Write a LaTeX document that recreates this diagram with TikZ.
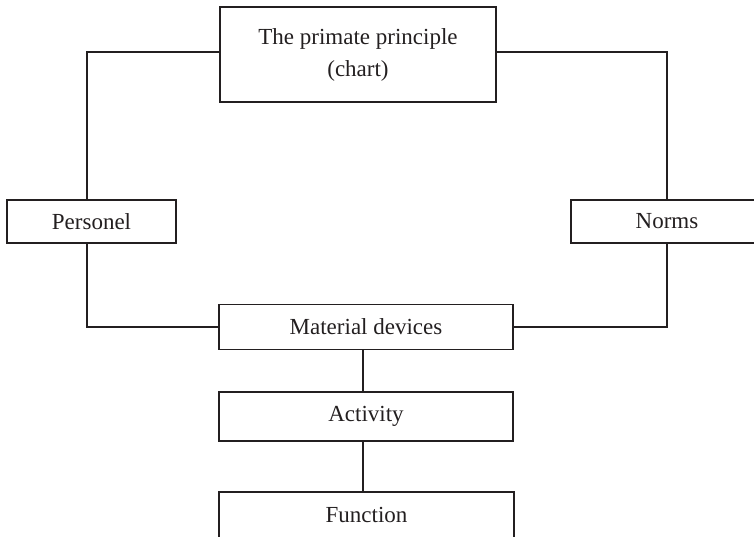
\documentclass[tikz,border=0pt]{standalone}
\usepackage{fontspec}
\setmainfont{Liberation Serif}
\definecolor{ink}{HTML}{231F20}
\begin{document}
\begin{tikzpicture}[x=1pt,y=-1pt,
  box/.style={draw=ink,line width=1.3pt,text=ink,inner sep=0pt,
    font=\fontsize{23}{32}\selectfont,align=center},
  link/.style={draw=ink,line width=1.3pt}]
\useasboundingbox (0,0) rectangle (754,537);
\clip (0,0) rectangle (754,537);
\node[box,minimum width=276pt,minimum height=95pt] (top) at (358,54.5) {The primate principle\\(chart)};
\node[box,minimum width=169pt,minimum height=43pt] (pers) at (91.5,221.5) {Personel};
\node[box,minimum width=192pt,minimum height=43pt] (norms) at (667,221.5) {Norms};
\node[box,minimum width=294pt,minimum height=45pt] (mat) at (366,327) {Material devices};
\node[box,minimum width=294pt,minimum height=49pt] (act) at (366,416.5) {Activity};
\node[box,minimum width=295pt,minimum height=46pt] (fun) at (366.5,515) {Function};
\coordinate (pl) at (87,0);
\draw[link] ([yshift=2.5pt]top.west) -| (pl |- pers.north);
\draw[link] (pl |- pers.south) |- (mat.west);
\draw[link] ([yshift=2.5pt]top.east) -| (norms.north);
\draw[link] (norms.south) |- (mat.east);
\draw[link] ([xshift=-3pt]mat.south) -- ([xshift=-3pt]act.north);
\draw[link] ([xshift=-3pt]act.south) -- ([xshift=-3.5pt]fun.north);
\end{tikzpicture}
\end{document}
